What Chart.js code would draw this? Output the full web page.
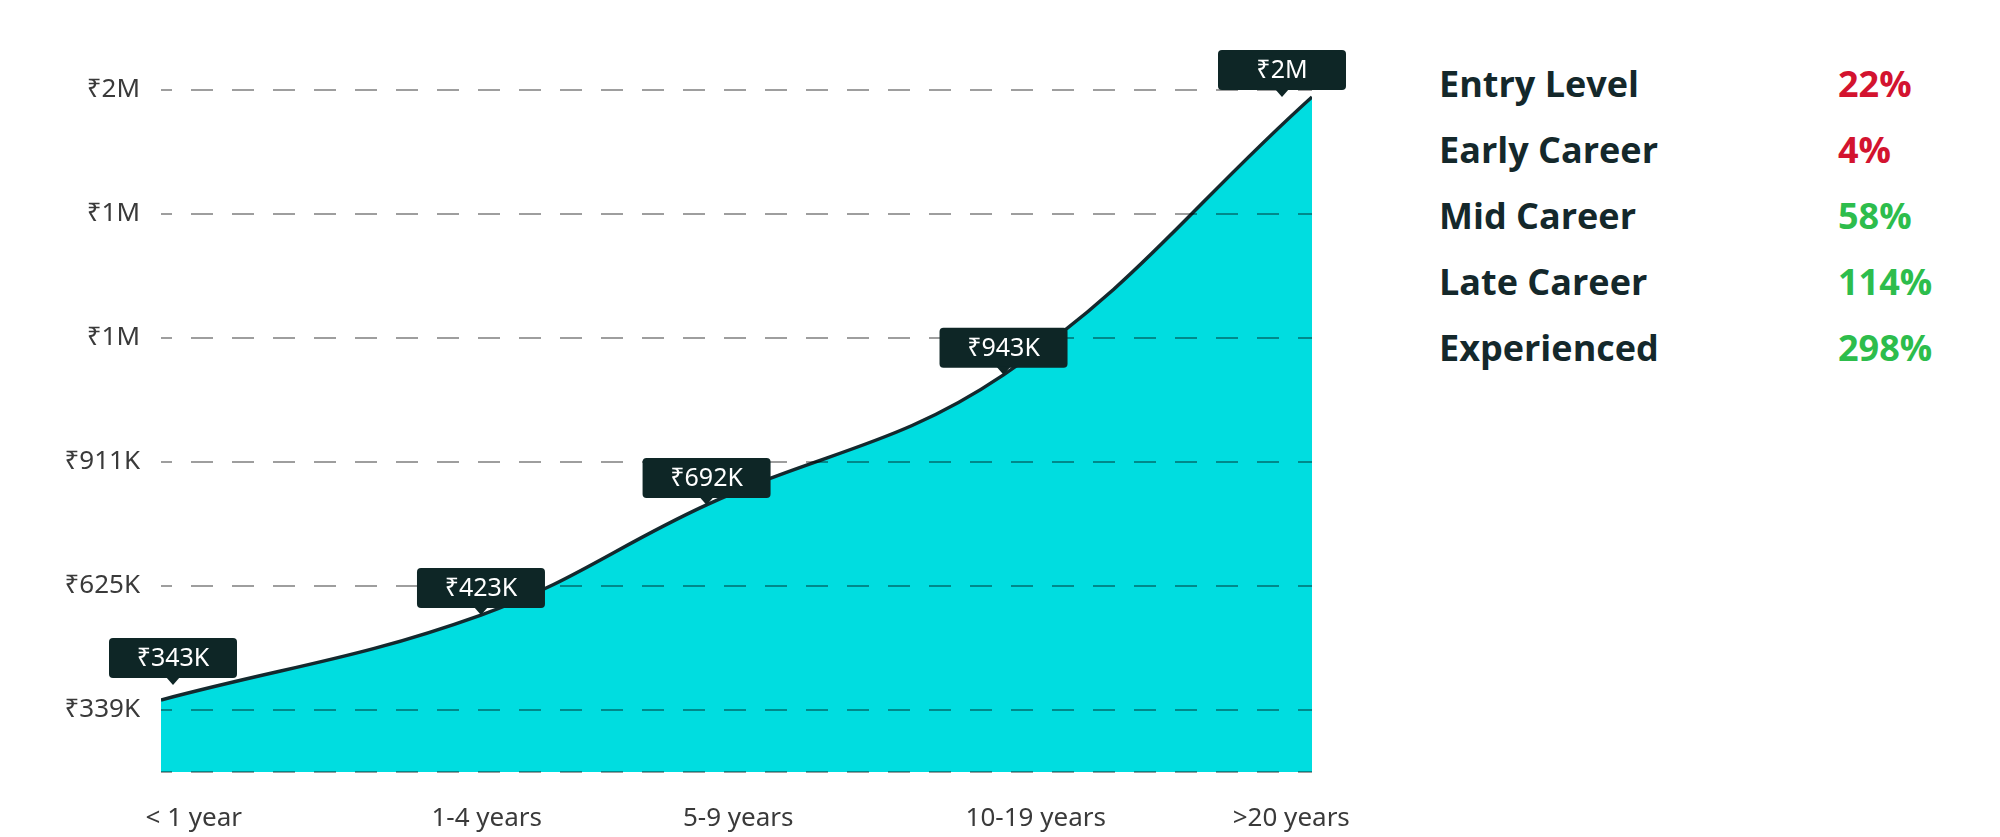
<!DOCTYPE html>
<html>
<head>
<meta charset="utf-8">
<script src="https://cdn.jsdelivr.net/npm/chart.js@4.4.1/dist/chart.umd.min.js"></script>
<style>
    body { margin: 0; background: #fff; width: 2000px; height: 837px; overflow: hidden; position: relative; }
    #wrap { position: absolute; left: 0; top: 0; width: 1400px; height: 837px; }
    #stages { position: absolute; left: 1439px; top: 51px; font-family: "Open Sans", sans-serif; font-weight: 700; font-size: 36px; color: #14282b; }
    .row { height: 66px; line-height: 66px; position: relative; width: 540px; }
    .pct { position: absolute; left: 399px; top: 0; }
</style>
</head>
<body>
<div id="wrap"><canvas id="salaryChart" width="1400" height="837"></canvas></div>
<div id="stages"></div>
<script>
// experience buckets and where each sits along the experience axis
const experienceLabels = ['< 1 year', '1-4 years', '5-9 years', '10-19 years', '>20 years'];
const labelYears = [0.57, 5.66, 10.03, 15.2, 19.64];
const pointYears = [0, 5.56, 9.48, 14.64, 20];

// curve height as drawn, and the salary printed on each callout
const curveValues = [362000, 558000, 812000, 1112000, 1753000];
const calloutSalaries = [343000, 423000, 692000, 943000, 1900000];

// y axis ticks
const yMin = 196000;
const yTicks = [339000, 625000, 911000, 1197000, 1483000, 1769000];

// side table
const careerStages = ['Entry Level', 'Early Career', 'Mid Career', 'Late Career', 'Experienced'];
const growthPct = [22, 4, 58, 114, 298];

const colors = {
    fill: '#00dde0',
    line: '#13292e',
    box: '#0e2626',
    grid: 'rgba(0, 0, 0, 0.38)',
    tick: '#3a3a3a',
    red: '#d3132f',
    green: '#2dbd4c'
};

const rupees = (v) => v >= 1e6 ? '₹' + Math.round(v / 1e6) + 'M' : '₹' + Math.round(v / 1e3) + 'K';

// side table as plain text
const stages = document.getElementById('stages');
careerStages.forEach((name, i) => {
    const row = document.createElement('div');
    row.className = 'row';
    row.textContent = name;
    const pct = document.createElement('span');
    pct.className = 'pct';
    pct.textContent = growthPct[i] + '%';
    pct.style.color = growthPct[i] < 50 ? colors.red : colors.green;
    row.appendChild(pct);
    stages.appendChild(row);
});

// dark callouts above each point
const calloutPlugin = {
    id: 'callouts',
    afterDraw(chart) {
        const { ctx, chartArea } = chart;
        const pts = chart.getDatasetMeta(0).data;
        const w = 128, h = 40, caret = 7;
        ctx.save();
        ctx.font = '25px "Noto Sans"';
        ctx.textAlign = 'center';
        ctx.textBaseline = 'middle';
        pts.forEach((p, i) => {
            let bx = p.x - w / 2;
            bx = Math.max(chartArea.left - 52, Math.min(bx, chartArea.right + 34 - w));
            // the first one sits a little clear of the flat start
            const lift = i === 0 ? 15 : 0;
            const by = p.y - caret - h - lift;
            const cx = bx + w / 2;
            ctx.fillStyle = colors.box;
            ctx.beginPath();
            ctx.roundRect(bx, by, w, h, 4);
            ctx.fill();
            ctx.beginPath();
            ctx.moveTo(cx - 7, by + h - 1);
            ctx.lineTo(cx + 7, by + h - 1);
            ctx.lineTo(cx, by + h + caret);
            ctx.closePath();
            ctx.fill();
            ctx.fillStyle = '#ffffff';
            ctx.fillText(rupees(calloutSalaries[i]), cx, by + h / 2 + 1);
        });
        ctx.restore();
    }
};

const ctx = document.getElementById('salaryChart').getContext('2d');
new Chart(ctx, {
    type: 'line',
    data: {
        datasets: [{
            data: pointYears.map((x, i) => ({ x: x, y: curveValues[i] })),
            borderColor: colors.line,
            borderWidth: 3.5,
            backgroundColor: colors.fill,
            fill: 'start',
            tension: 0.4,
            pointRadius: 0
        }]
    },
    options: {
        responsive: false,
        animation: false,
        events: [],
        layout: { padding: { top: 90, right: 88, left: 0, bottom: 0 } },
        plugins: { legend: { display: false }, tooltip: { enabled: false } },
        scales: {
            x: {
                type: 'linear',
                min: 0,
                max: 20,
                afterBuildTicks: (s) => { s.ticks = labelYears.map(v => ({ value: v })); },
                afterFit: (s) => { s.height = 65; },
                grid: { display: false },
                border: { display: false },
                ticks: {
                    autoSkip: false,
                    maxRotation: 0,
                    padding: 23,
                    color: colors.tick,
                    font: { family: 'Noto Sans', size: 26 },
                    callback: (v, i) => experienceLabels[i]
                }
            },
            y: {
                min: yMin,
                max: yTicks[yTicks.length - 1],
                afterBuildTicks: (s) => { s.ticks = [yMin, ...yTicks].map(v => ({ value: v })); },
                afterFit: (s) => { s.width = 161; },
                grid: { color: colors.grid, lineWidth: 2, drawTicks: false, z: 1 },
                border: { display: false, dash: [22, 19], dashOffset: 11 },
                ticks: {
                    padding: 21,
                    color: colors.tick,
                    font: { family: 'Noto Sans', size: 26 },
                    callback: (v) => v === yMin ? '' : rupees(v)
                }
            }
        }
    },
    plugins: [calloutPlugin]
});
</script>
</body>
</html>
